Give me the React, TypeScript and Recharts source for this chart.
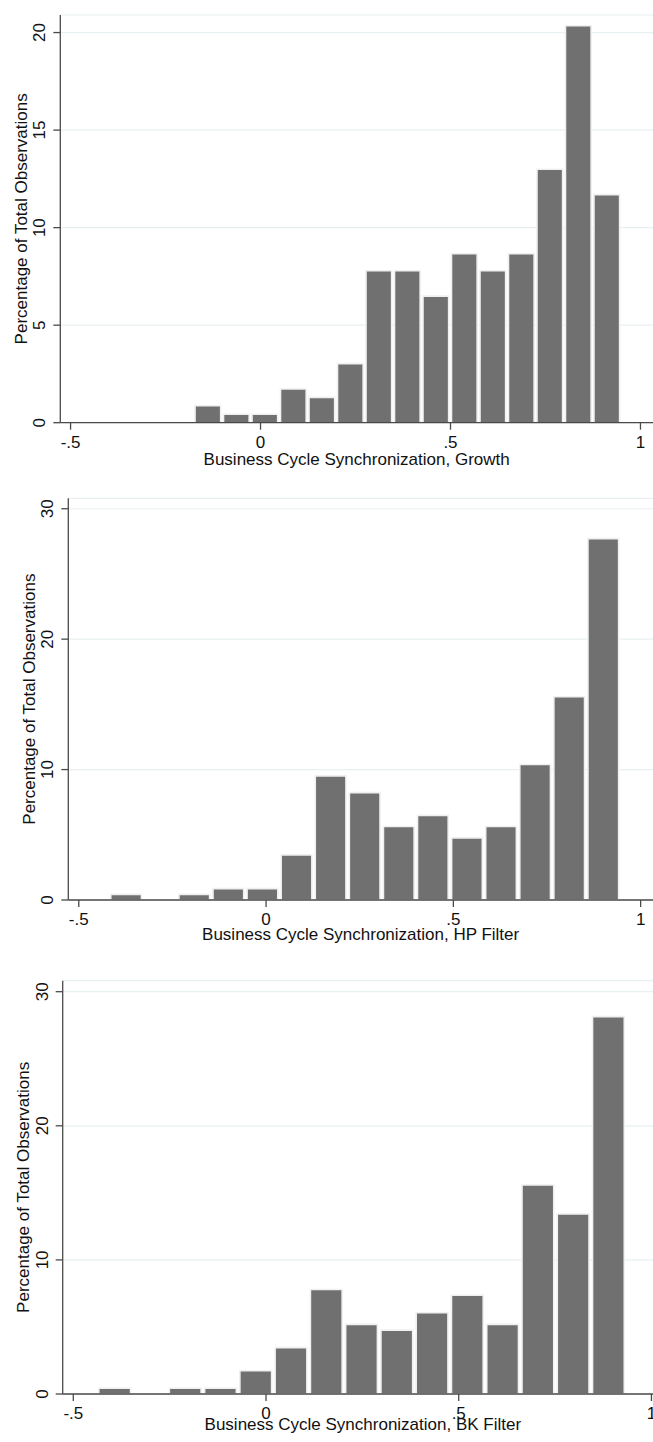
import React from 'react';
import { BarChart, Bar, XAxis, YAxis, CartesianGrid } from 'recharts';

// ---------- data ----------
const growthBinCenters = [-0.1375, -0.0625, 0.0125, 0.0875, 0.1625, 0.2375, 0.3125, 0.3875, 0.4625, 0.5375, 0.6125, 0.6875, 0.7625, 0.8375, 0.9125];
const growthPct = [0.87, 0.43, 0.43, 1.73, 1.3, 3.03, 7.79, 7.79, 6.49, 8.66, 7.79, 8.66, 12.99, 20.35, 11.69];
const growthBinWidth = 0.075;

const hpBinCenters = [-0.3745, -0.2835, -0.1925, -0.1015, -0.0105, 0.0805, 0.1715, 0.2625, 0.3535, 0.4445, 0.5355, 0.6265, 0.7175, 0.8085, 0.8995];
const hpPct = [0.43, 0, 0.43, 0.87, 0.87, 3.46, 9.52, 8.23, 5.63, 6.49, 4.76, 5.63, 10.39, 15.58, 27.71];
const hpBinWidth = 0.091;

const bkBinCenters = [-0.39325, -0.30175, -0.21025, -0.11875, -0.02725, 0.06425, 0.15575, 0.24725, 0.33875, 0.43025, 0.52175, 0.61325, 0.70475, 0.79625, 0.88775];
const bkPct = [0.43, 0, 0.43, 0.43, 1.73, 3.46, 7.79, 5.19, 4.76, 6.06, 7.36, 5.19, 15.58, 13.42, 28.14];
const bkBinWidth = 0.0915;

const xTicks = [-0.5, 0, 0.5, 1];
const growthYTicks = [0, 5, 10, 15, 20];
const filterYTicks = [0, 10, 20, 30];

const yTitle = 'Percentage of Total Observations';
const growthTitle = 'Business Cycle Synchronization, Growth';
const hpTitle = 'Business Cycle Synchronization, HP Filter';
const bkTitle = 'Business Cycle Synchronization, BK Filter';

// ---------- style ----------
const FONT = '"Liberation Sans", Arial, Helvetica, sans-serif';
const FS = 17;
const AXIS = '#4a4a4a';
const GRID = '#e8f0f1';
const BAR = '#707070';
const BAR_EDGE = '#f0f0f0';

const fmtX = (v: number) => {
  if (v === 0) return '0';
  const s = String(v);
  return s.replace(/^(-?)0\./, '$1.');
};

type PanelProps = {
  top: number;
  width: number;
  height: number;
  plotLeft: number;
  plotTop: number;
  plotBottom: number;
  xDomain: [number, number];
  yDomain: [number, number];
  yTicks: number[];
  centers: number[];
  pct: number[];
  binWidth: number;
  title: string;
  titleOffset: number;
};

function Panel(p: PanelProps) {
  const data = p.centers.map((c, i) => ({ x: c, pct: p.pct[i] }));
  const plotWidth = p.width - p.plotLeft;
  const pxPerUnit = plotWidth / (p.xDomain[1] - p.xDomain[0]);
  const barSize = p.binWidth * pxPerUnit;
  const plotH = p.plotBottom - p.plotTop;

  const yTick = (props: any) => {
    const { x, y, payload } = props;
    return (
      <text
        x={x}
        y={y}
        transform={`rotate(-90 ${x} ${y})`}
        textAnchor="middle"
        fontFamily={FONT}
        fontSize={FS}
        fill="#111"
      >
        {payload.value}
      </text>
    );
  };

  const xTick = (props: any) => {
    const { x, y, payload } = props;
    return (
      <text x={x} y={y} dy={16} textAnchor="middle" fontFamily={FONT} fontSize={FS} fill="#111">
        {fmtX(payload.value)}
      </text>
    );
  };

  const yLabel = () => {
    const cx = p.plotLeft - 33.3;
    const cy = p.plotTop + plotH / 2;
    return (
      <text
        x={cx}
        y={cy}
        transform={`rotate(-90 ${cx} ${cy})`}
        textAnchor="middle"
        fontFamily={FONT}
        fontSize={FS}
        fill="#111"
      >
        {yTitle}
      </text>
    );
  };

  const xLabel = () => {
    const cx = p.plotLeft + plotWidth / 2;
    const cy = p.plotBottom + p.titleOffset;
    return (
      <text x={cx} y={cy} textAnchor="middle" fontFamily={FONT} fontSize={FS} fill="#111">
        {p.title}
      </text>
    );
  };

  return (
    <div style={{ position: 'absolute', left: 0, top: p.top, width: 653, height: p.height, overflow: 'hidden' }}>
      <BarChart
        width={p.width}
        height={p.height}
        data={data}
        margin={{ top: p.plotTop, right: 0, bottom: 0, left: 0 }}
      >
        <CartesianGrid horizontal={true} vertical={false} stroke={GRID} strokeWidth={1.2} />
        <XAxis
          dataKey="x"
          type="number"
          domain={p.xDomain}
          ticks={xTicks}
          interval={0}
          allowDataOverflow={true}
          height={p.height - p.plotBottom}
          tickSize={7}
          tickMargin={2}
          stroke={AXIS}
          axisLine={{ stroke: AXIS, strokeWidth: 1.3 }}
          tickLine={{ stroke: AXIS, strokeWidth: 1.3 }}
          tick={xTick}
          label={xLabel}
        />
        <YAxis
          type="number"
          domain={p.yDomain}
          ticks={p.yTicks}
          interval={0}
          allowDataOverflow={true}
          width={p.plotLeft}
          tickSize={7}
          tickMargin={8}
          stroke={AXIS}
          axisLine={{ stroke: AXIS, strokeWidth: 1.3 }}
          tickLine={{ stroke: AXIS, strokeWidth: 1.3 }}
          tick={yTick}
          label={yLabel}
        />
        <Bar
          dataKey="pct"
          fill={BAR}
          stroke={BAR_EDGE}
          strokeWidth={1.6}
          barSize={barSize}
          isAnimationActive={false}
        />
      </BarChart>
    </div>
  );
}

export default function App() {
  return (
    <div style={{ position: 'absolute', left: 0, top: 0, width: 653, height: 1442, background: '#fff', overflow: 'hidden' }}>
      <Panel
        top={0}
        width={653}
        height={470}
        plotLeft={60.3}
        plotTop={15}
        plotBottom={422.7}
        xDomain={[-0.527, 1.033]}
        yDomain={[0, 20.9]}
        yTicks={growthYTicks}
        centers={growthBinCenters}
        pct={growthPct}
        binWidth={growthBinWidth}
        title={growthTitle}
        titleOffset={42}
      />
      <Panel
        top={470}
        width={653}
        height={475}
        plotLeft={68.3}
        plotTop={28.3}
        plotBottom={430}
        xDomain={[-0.528, 1.033]}
        yDomain={[0, 30.8]}
        yTicks={filterYTicks}
        centers={hpBinCenters}
        pct={hpPct}
        binWidth={hpBinWidth}
        title={hpTitle}
        titleOffset={40}
      />
      <Panel
        top={945}
        width={663}
        height={497}
        plotLeft={62.7}
        plotTop={35.7}
        plotBottom={449}
        xDomain={[-0.5275, 1.03]}
        yDomain={[0, 30.82]}
        yTicks={filterYTicks}
        centers={bkBinCenters}
        pct={bkPct}
        binWidth={bkBinWidth}
        title={bkTitle}
        titleOffset={35.5}
      />
    </div>
  );
}
